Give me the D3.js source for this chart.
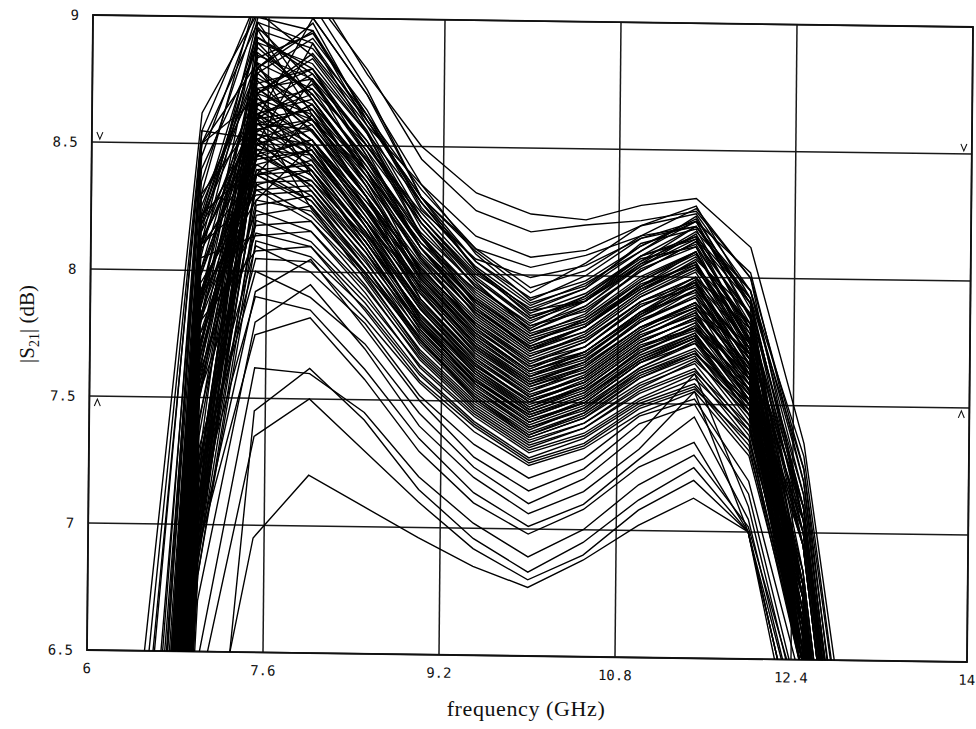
<!DOCTYPE html>
<html>
<head>
<meta charset="utf-8">
<script src="https://cdn.jsdelivr.net/npm/d3@7/dist/d3.min.js"></script>
<style>
  body { margin: 0; background: #fff; }
  text { fill: #111; }
</style>
</head>
<body>
<div id="chart"></div>
<script>
// ---------------------------
// DATA
// ---------------------------
const freqs = [6.5, 7.0, 7.5, 8.0, 8.5, 9.0, 9.5, 10.0, 10.5, 11.0, 11.5, 12.0, 12.5, 13.0];
const xTicks = [6, 7.6, 9.2, 10.8, 12.4, 14];
const xTickLabels = ["6", "7.6", "9.2", "10.8", "12.4", "14"];
const yTicks = [6.5, 7, 7.5, 8, 8.5, 9];
const yTickLabels = ["6.5", "7", "7.5", "8", "8.5", "9"];

// highest few traces (clipped at the top of the frame)
const topCurves = [
  [5.9, 8.55, 9.08, 9.12, 8.78, 8.5, 8.32, 8.24, 8.22, 8.28, 8.31, 8.12, 7.35, 5.9],
  [4.8, 8.45, 9.05, 9.08, 8.8, 8.45, 8.25, 8.17, 8.2, 8.22, 8.26, 8.0, 7.25, 5.6],
  [3.2, 8.3, 9.1, 9.0, 8.7, 8.35, 8.15, 8.07, 8.1, 8.2, 8.25, 7.95, 7.3, 5.8],
  [6.4, 8.62, 9.02, 9.05, 8.72, 8.3, 8.1, 8.03, 8.08, 8.16, 8.2, 7.9, 7.1, 5.4],
  [2.5, 8.1, 9.0, 8.95, 8.62, 8.25, 8.06, 7.99, 8.04, 8.15, 8.22, 8.02, 7.2, 5.5]
];

// main bundle
const coreCurves = [
  [3.1, 8.05, 8.95, 8.88, 8.62, 8.33, 8.1, 7.95, 8.02, 8.16, 8.27, 8.0, 7.05, 5.4],
  [4.4, 8.25, 8.8, 8.98, 8.6, 8.3, 8.09, 7.93, 8.05, 8.2, 8.28, 7.92, 6.6, 4.8],
  [2.2, 7.1, 8.9, 8.82, 8.55, 8.28, 8.05, 7.91, 7.98, 8.12, 8.22, 7.85, 6.8, 4.8],
  [5.2, 8.35, 9.02, 8.85, 8.58, 8.35, 8.08, 7.9, 8.0, 8.15, 8.2, 7.95, 7.15, 5.6],
  [3.6, 8.0, 8.78, 8.92, 8.64, 8.26, 8.03, 7.88, 7.97, 8.1, 8.24, 7.88, 6.5, 4.4],
  [1.9, 7.0, 8.85, 8.76, 8.52, 8.22, 8.0, 7.87, 7.95, 8.13, 8.19, 7.8, 6.75, 5.1],
  [4.0, 8.15, 8.92, 8.8, 8.5, 8.24, 8.01, 7.85, 7.93, 8.08, 8.2, 7.9, 7.0, 5.4],
  [2.8, 7.9, 8.7, 8.86, 8.6, 8.28, 8.02, 7.84, 7.9, 8.06, 8.16, 7.76, 6.65, 4.9],
  [3.5, 7.25, 8.96, 8.75, 8.48, 8.2, 7.98, 7.82, 7.9, 8.05, 8.18, 7.95, 7.2, 5.7],
  [2.4, 7.7, 8.74, 8.8, 8.55, 8.18, 7.95, 7.81, 7.92, 8.07, 8.12, 7.7, 6.55, 4.5],
  [5.5, 8.4, 8.88, 8.7, 8.45, 8.16, 7.96, 7.8, 7.86, 8.02, 8.14, 7.85, 6.85, 5.2],
  [3.0, 7.15, 8.82, 8.72, 8.5, 8.2, 7.97, 7.78, 7.88, 8.04, 8.15, 7.9, 7.1, 5.5],
  [2.0, 7.5, 8.65, 8.78, 8.52, 8.15, 7.92, 7.77, 7.84, 8.0, 8.1, 7.72, 6.65, 4.8],
  [4.6, 8.2, 8.9, 8.68, 8.4, 8.12, 7.9, 7.76, 7.85, 8.03, 8.12, 7.8, 6.75, 5.0],
  [3.3, 7.2, 8.7, 8.8, 8.46, 8.1, 7.9, 7.75, 7.82, 7.96, 8.08, 7.82, 7.05, 5.4],
  [2.6, 7.78, 8.76, 8.66, 8.42, 8.14, 7.88, 7.73, 7.83, 7.98, 8.1, 7.75, 6.5, 4.3],
  [3.8, 8.1, 8.6, 8.74, 8.48, 8.1, 7.86, 7.72, 7.8, 7.95, 8.06, 7.7, 6.7, 4.9],
  [1.7, 6.9, 8.7, 8.62, 8.38, 8.08, 7.87, 7.71, 7.78, 7.94, 8.07, 7.86, 7.15, 5.6],
  [4.2, 8.18, 8.8, 8.6, 8.36, 8.06, 7.85, 7.7, 7.8, 7.97, 8.05, 7.68, 6.55, 4.6],
  [2.9, 7.85, 8.62, 8.7, 8.44, 8.1, 7.84, 7.69, 7.76, 7.92, 8.03, 7.78, 6.95, 5.3],
  [3.4, 7.1, 8.72, 8.58, 8.32, 8.04, 7.82, 7.68, 7.77, 7.93, 8.04, 7.72, 6.65, 4.9],
  [2.3, 7.65, 8.55, 8.66, 8.4, 8.06, 7.8, 7.66, 7.72, 7.88, 8.0, 7.65, 6.45, 4.4],
  [5.0, 8.28, 8.75, 8.55, 8.3, 8.02, 7.8, 7.65, 7.74, 7.9, 7.98, 7.74, 7.0, 5.4],
  [3.1, 7.05, 8.6, 8.64, 8.36, 8.0, 7.78, 7.64, 7.7, 7.86, 7.99, 7.62, 6.5, 4.5],
  [2.1, 7.55, 8.68, 8.52, 8.28, 8.03, 7.79, 7.63, 7.72, 7.89, 7.96, 7.7, 6.75, 5.0],
  [4.3, 8.12, 8.52, 8.6, 8.34, 7.98, 7.76, 7.62, 7.69, 7.84, 7.97, 7.66, 6.65, 4.8],
  [2.7, 6.95, 8.64, 8.5, 8.26, 7.99, 7.76, 7.61, 7.68, 7.85, 7.95, 7.72, 7.1, 5.5],
  [3.6, 7.98, 8.58, 8.56, 8.3, 7.97, 7.74, 7.6, 7.7, 7.86, 7.94, 7.6, 6.55, 4.5],
  [1.8, 7.35, 8.62, 8.48, 8.22, 7.95, 7.73, 7.59, 7.66, 7.82, 7.93, 7.68, 6.8, 5.1],
  [4.7, 7.2, 8.66, 8.52, 8.25, 7.96, 7.72, 7.58, 7.65, 7.8, 7.9, 7.64, 6.65, 4.9],
  [3.0, 7.82, 8.5, 8.58, 8.3, 7.94, 7.71, 7.57, 7.66, 7.83, 7.92, 7.58, 6.45, 4.3],
  [2.5, 7.68, 8.6, 8.46, 8.2, 7.92, 7.7, 7.56, 7.63, 7.79, 7.9, 7.7, 6.85, 5.2],
  [3.9, 7.0, 8.54, 8.5, 8.24, 7.93, 7.69, 7.55, 7.62, 7.78, 7.88, 7.62, 6.7, 4.8],
  [2.2, 7.5, 8.45, 8.52, 8.26, 7.9, 7.68, 7.54, 7.64, 7.8, 7.89, 7.55, 6.5, 4.4],
  [3.3, 7.88, 8.56, 8.44, 8.18, 7.89, 7.67, 7.53, 7.6, 7.76, 7.86, 7.66, 7.05, 5.5],
  [4.5, 7.1, 8.48, 8.46, 8.2, 7.88, 7.66, 7.52, 7.61, 7.77, 7.85, 7.58, 6.6, 4.6],
  [2.6, 7.62, 8.52, 8.4, 8.16, 7.86, 7.64, 7.51, 7.58, 7.74, 7.84, 7.62, 6.75, 5.0],
  [3.5, 7.92, 8.44, 8.48, 8.2, 7.87, 7.65, 7.5, 7.59, 7.75, 7.83, 7.54, 6.45, 4.4],
  [1.9, 6.85, 8.5, 8.38, 8.12, 7.84, 7.63, 7.49, 7.56, 7.72, 7.82, 7.6, 6.8, 5.2],
  [4.1, 8.08, 8.46, 8.36, 8.14, 7.83, 7.62, 7.48, 7.57, 7.73, 7.8, 7.52, 6.5, 4.5],
  [2.8, 7.75, 8.4, 8.42, 8.16, 7.82, 7.61, 7.47, 7.55, 7.7, 7.81, 7.56, 6.65, 4.9],
  [3.2, 7.0, 8.48, 8.34, 8.1, 7.8, 7.6, 7.46, 7.54, 7.71, 7.79, 7.58, 7.0, 5.4],
  [2.4, 7.58, 8.38, 8.4, 8.12, 7.81, 7.59, 7.45, 7.53, 7.69, 7.78, 7.5, 6.45, 4.3],
  [4.8, 8.22, 8.42, 8.3, 8.06, 7.79, 7.58, 7.44, 7.52, 7.68, 7.77, 7.54, 6.65, 4.8],
  [3.0, 6.95, 8.35, 8.36, 8.1, 7.78, 7.57, 7.43, 7.5, 7.66, 7.76, 7.48, 6.55, 4.5],
  [2.0, 7.42, 8.4, 8.28, 8.04, 7.77, 7.56, 7.42, 7.5, 7.66, 7.74, 7.56, 6.85, 5.2],
  [3.7, 7.95, 8.32, 8.34, 8.08, 7.76, 7.55, 7.41, 7.49, 7.64, 7.75, 7.46, 6.5, 4.4],
  [2.7, 6.9, 8.38, 8.26, 8.02, 7.75, 7.54, 7.4, 7.47, 7.63, 7.72, 7.5, 6.7, 5.0],
  [4.4, 8.1, 8.3, 8.32, 8.05, 7.74, 7.53, 7.39, 7.48, 7.62, 7.71, 7.44, 6.45, 4.3],
  [3.1, 7.72, 8.34, 8.22, 8.0, 7.73, 7.52, 7.38, 7.46, 7.61, 7.7, 7.52, 7.05, 5.5],
  [2.3, 6.85, 8.26, 8.3, 8.02, 7.72, 7.51, 7.37, 7.45, 7.6, 7.69, 7.42, 6.5, 4.4],
  [3.6, 7.88, 8.32, 8.2, 7.98, 7.7, 7.5, 7.36, 7.44, 7.58, 7.68, 7.46, 6.65, 4.9],
  [1.8, 7.25, 8.28, 8.24, 7.99, 7.69, 7.49, 7.35, 7.42, 7.57, 7.66, 7.4, 6.55, 4.5],
  [4.0, 6.95, 8.22, 8.26, 7.97, 7.68, 7.48, 7.34, 7.42, 7.56, 7.67, 7.48, 6.8, 5.1],
  [2.9, 7.6, 8.24, 8.16, 7.94, 7.67, 7.47, 7.33, 7.4, 7.55, 7.64, 7.38, 6.45, 4.3],
  [3.4, 7.75, 8.18, 8.2, 7.95, 7.66, 7.46, 7.32, 7.4, 7.54, 7.63, 7.42, 6.65, 4.8],
  [2.5, 6.8, 8.2, 8.12, 7.9, 7.64, 7.45, 7.31, 7.38, 7.52, 7.62, 7.36, 6.5, 4.4],
  [4.6, 8.05, 8.14, 8.16, 7.92, 7.63, 7.44, 7.3, 7.37, 7.51, 7.6, 7.4, 6.75, 5.0],
  [3.0, 7.52, 8.15, 8.1, 7.88, 7.61, 7.42, 7.28, 7.36, 7.5, 7.58, 7.34, 6.45, 4.3],
  [2.2, 6.8, 8.12, 8.06, 7.86, 7.6, 7.41, 7.27, 7.34, 7.49, 7.57, 7.32, 6.55, 4.5],
  [3.8, 7.8, 8.08, 8.1, 7.85, 7.58, 7.4, 7.26, 7.33, 7.48, 7.56, 7.36, 6.65, 4.9],
  [2.6, 7.2, 8.05, 8.04, 7.82, 7.57, 7.38, 7.25, 7.32, 7.46, 7.55, 7.3, 6.5, 4.4]
];

// second run of the main bundle
const coreCurves2 = [
  [3.0, 7.85, 8.98, 8.9, 8.6, 8.3, 8.05, 7.89, 7.96, 8.12, 8.23, 7.9, 6.75, 4.9],
  [4.3, 8.2, 8.84, 8.94, 8.62, 8.28, 8.02, 7.86, 7.95, 8.1, 8.22, 7.84, 6.65, 4.8],
  [2.3, 7.05, 8.92, 8.78, 8.5, 8.22, 7.98, 7.83, 7.91, 8.06, 8.2, 7.92, 7.05, 5.5],
  [3.7, 8.1, 8.7, 8.84, 8.56, 8.2, 7.95, 7.8, 7.88, 8.05, 8.13, 7.78, 6.55, 4.5],
  [2.9, 7.8, 8.86, 8.7, 8.44, 8.15, 7.93, 7.78, 7.87, 8.02, 8.14, 7.86, 6.95, 5.3],
  [4.9, 7.2, 8.72, 8.76, 8.46, 8.14, 7.91, 7.76, 7.83, 7.99, 8.1, 7.74, 6.65, 4.8],
  [2.2, 7.6, 8.8, 8.64, 8.4, 8.1, 7.89, 7.74, 7.82, 7.98, 8.09, 7.8, 6.8, 5.0],
  [3.4, 7.98, 8.66, 8.72, 8.42, 8.1, 7.87, 7.72, 7.8, 7.96, 8.06, 7.72, 6.65, 4.8],
  [2.7, 7.0, 8.78, 8.6, 8.36, 8.07, 7.85, 7.7, 7.78, 7.94, 8.05, 7.76, 7.0, 5.4],
  [4.1, 8.15, 8.62, 8.68, 8.38, 8.05, 7.83, 7.68, 7.76, 7.92, 8.02, 7.68, 6.5, 4.4],
  [2.4, 7.6, 8.72, 8.56, 8.3, 8.02, 7.81, 7.66, 7.74, 7.9, 8.0, 7.74, 6.75, 5.0],
  [3.6, 7.1, 8.58, 8.64, 8.34, 8.01, 7.79, 7.64, 7.72, 7.88, 7.98, 7.66, 6.65, 4.8],
  [1.9, 7.4, 8.66, 8.52, 8.28, 8.0, 7.77, 7.62, 7.7, 7.86, 7.97, 7.7, 6.95, 5.3],
  [4.4, 8.18, 8.56, 8.6, 8.3, 7.98, 7.75, 7.6, 7.68, 7.84, 7.95, 7.62, 6.55, 4.5],
  [2.6, 6.95, 8.62, 8.5, 8.24, 7.96, 7.73, 7.58, 7.66, 7.82, 7.92, 7.68, 6.8, 5.1],
  [3.3, 7.9, 8.5, 8.56, 8.26, 7.94, 7.71, 7.56, 7.64, 7.8, 7.9, 7.6, 6.5, 4.4],
  [2.1, 7.52, 8.58, 8.46, 8.2, 7.92, 7.69, 7.54, 7.62, 7.78, 7.88, 7.64, 6.75, 5.0],
  [3.9, 7.05, 8.46, 8.52, 8.22, 7.9, 7.67, 7.52, 7.6, 7.76, 7.86, 7.56, 6.6, 4.6],
  [2.8, 7.7, 8.54, 8.42, 8.16, 7.88, 7.65, 7.5, 7.58, 7.74, 7.84, 7.6, 6.95, 5.3],
  [3.2, 7.82, 8.42, 8.48, 8.18, 7.86, 7.63, 7.48, 7.56, 7.72, 7.82, 7.52, 6.5, 4.4],
  [2.3, 6.9, 8.5, 8.38, 8.12, 7.84, 7.61, 7.46, 7.54, 7.7, 7.8, 7.56, 6.7, 4.9],
  [4.2, 8.1, 8.38, 8.44, 8.14, 7.82, 7.59, 7.44, 7.52, 7.68, 7.78, 7.5, 6.65, 4.8],
  [2.9, 7.66, 8.46, 8.34, 8.08, 7.8, 7.57, 7.42, 7.5, 7.66, 7.76, 7.54, 6.8, 5.1],
  [3.5, 7.0, 8.34, 8.4, 8.1, 7.78, 7.55, 7.4, 7.48, 7.64, 7.74, 7.46, 6.5, 4.4],
  [2.5, 7.55, 8.38, 8.28, 8.02, 7.74, 7.51, 7.36, 7.44, 7.6, 7.7, 7.48, 6.65, 4.8]
];

// extra traces with the peak shifted between 7.5 and 8 GHz
const shiftedCurves = [
  [3.3, 8.0, 8.6, 9.0, 8.7, 8.3, 8.02, 7.86, 7.9, 8.04, 8.17, 7.82, 6.65, 4.8],
  [4.9, 8.5, 8.98, 8.68, 8.4, 8.12, 7.94, 7.79, 7.9, 8.08, 8.16, 7.92, 7.25, 5.8],
  [2.1, 7.65, 8.5, 8.9, 8.55, 8.15, 7.89, 7.74, 7.81, 7.96, 8.1, 7.74, 6.6, 4.7],
  [3.7, 8.22, 8.95, 8.62, 8.3, 8.02, 7.81, 7.67, 7.75, 7.9, 8.0, 7.8, 7.05, 5.5],
  [2.8, 7.9, 8.45, 8.76, 8.4, 8.0, 7.77, 7.62, 7.7, 7.85, 7.98, 7.6, 6.5, 4.4],
  [5.3, 8.5, 8.82, 8.45, 8.2, 7.95, 7.72, 7.57, 7.64, 7.8, 7.88, 7.7, 7.1, 5.6],
  [2.4, 7.8, 8.38, 8.62, 8.3, 7.9, 7.67, 7.52, 7.6, 7.76, 7.87, 7.5, 6.45, 4.3],
  [3.9, 8.2, 8.7, 8.38, 8.12, 7.84, 7.62, 7.47, 7.56, 7.72, 7.8, 7.62, 6.95, 5.4],
  [2.9, 7.9, 8.28, 8.5, 8.18, 7.8, 7.57, 7.42, 7.51, 7.67, 7.76, 7.46, 6.5, 4.4],
  [4.5, 8.3, 8.6, 8.25, 8.0, 7.74, 7.52, 7.37, 7.46, 7.62, 7.7, 7.5, 6.75, 5.0],
  [2.6, 7.9, 8.8, 8.95, 8.58, 8.22, 7.99, 7.83, 7.92, 8.08, 8.15, 7.75, 6.65, 4.8],
  [6.0, 8.5, 8.68, 8.6, 8.4, 8.1, 7.86, 7.71, 7.8, 7.95, 8.04, 7.82, 7.1, 5.5],
  [2.0, 7.7, 8.55, 8.66, 8.34, 7.98, 7.75, 7.6, 7.67, 7.82, 7.95, 7.64, 6.65, 4.8],
  [3.5, 8.1, 8.62, 8.4, 8.15, 7.86, 7.64, 7.5, 7.58, 7.74, 7.84, 7.58, 6.75, 5.0],
  [6.2, 8.55, 8.52, 8.32, 8.08, 7.8, 7.58, 7.45, 7.52, 7.67, 7.77, 7.52, 6.65, 4.8]
];

// low outliers under the main bundle
const lowCurves = [
  [3.8, 5.83, 6.95, 7.2, 7.08, 6.96, 6.85, 6.77, 6.88, 7.02, 7.13, 7.0, 6.1, 3.9],
  [2.5, 6.3, 7.35, 7.5, 7.3, 7.1, 6.92, 6.8, 6.9, 7.08, 7.2, 7.0, 6.0, 3.8],
  [3.0, 5.1, 7.45, 7.62, 7.42, 7.15, 6.96, 6.83, 6.95, 7.12, 7.25, 7.0, 6.2, 4.0],
  [1.5, 6.45, 7.62, 7.6, 7.45, 7.2, 7.02, 6.89, 7.0, 7.18, 7.3, 7.02, 6.3, 4.2],
  [2.2, 6.9, 7.75, 7.82, 7.58, 7.3, 7.1, 6.98, 7.08, 7.25, 7.35, 7.0, 6.1, 3.9],
  [3.0, 7.1, 7.9, 7.85, 7.62, 7.35, 7.14, 7.01, 7.1, 7.28, 7.45, 7.05, 6.2, 4.1],
  [2.0, 6.7, 7.8, 7.95, 7.7, 7.4, 7.2, 7.06, 7.15, 7.32, 7.55, 7.0, 6.1, 4.0],
  [2.7, 7.2, 8.0, 7.9, 7.72, 7.45, 7.24, 7.1, 7.2, 7.38, 7.62, 7.1, 6.25, 4.2],
  [1.6, 6.9, 7.92, 8.05, 7.78, 7.5, 7.28, 7.15, 7.24, 7.42, 7.5, 7.15, 6.3, 4.3],
  [3.3, 7.3, 8.1, 8.0, 7.8, 7.52, 7.33, 7.2, 7.28, 7.45, 7.52, 7.2, 6.4, 4.4]
];

const allCurves = [...topCurves, ...coreCurves, ...coreCurves2, ...shiftedCurves, ...lowCurves];

// ---------------------------
// LAYOUT
// ---------------------------
const width = 976;
const height = 729;
const frame = { left: 93, top: 15, w: 880, h: 635 };

const svg = d3.select("#chart")
  .append("svg")
  .attr("width", width)
  .attr("height", height);

const x = d3.scaleLinear().domain([6, 14]).range([0, frame.w]);
const y = d3.scaleLinear().domain([6.5, 9]).range([frame.h, 0]);

// the scan is slightly skewed, so the whole plot frame is tilted a bit
const g = svg.append("g")
  .attr("transform", `translate(${frame.left},${frame.top}) matrix(1,0.01364,-0.00945,1,0,0)`);

svg.append("defs").append("clipPath")
  .attr("id", "plot-clip")
  .append("rect")
  .attr("width", frame.w)
  .attr("height", frame.h);

// grid
g.selectAll(".vgrid")
  .data(xTicks)
  .join("line")
  .attr("x1", d => x(d)).attr("x2", d => x(d))
  .attr("y1", 0).attr("y2", frame.h)
  .attr("stroke", "#1a1a1a")
  .attr("stroke-width", 1.5);

g.selectAll(".hgrid")
  .data(yTicks)
  .join("line")
  .attr("x1", 0).attr("x2", frame.w)
  .attr("y1", d => y(d)).attr("y2", d => y(d))
  .attr("stroke", "#1a1a1a")
  .attr("stroke-width", 1.5);

g.append("rect")
  .attr("width", frame.w)
  .attr("height", frame.h)
  .attr("fill", "none")
  .attr("stroke", "#111")
  .attr("stroke-width", 1.8);

// curves
const line = d3.line()
  .x((d, i) => x(freqs[i]))
  .y(d => y(d));

g.append("g")
  .attr("clip-path", "url(#plot-clip)")
  .selectAll("path")
  .data(allCurves)
  .join("path")
  .attr("d", line)
  .attr("fill", "none")
  .attr("stroke", "#000")
  .attr("stroke-width", 1.4)
  .attr("stroke-linejoin", "miter");

// limit markers (v above 8.5, ^ below 7.5) at both ends
const markers = [
  { fx: 6, v: 8.5, side: 1, up: false },
  { fx: 14, v: 8.5, side: -1, up: false },
  { fx: 6, v: 7.5, side: 1, up: true },
  { fx: 14, v: 7.5, side: -1, up: true }
];
g.selectAll(".marker")
  .data(markers)
  .join("path")
  .attr("d", d => {
    const cx = x(d.fx) + d.side * 8;
    const cy = y(d.v);
    return d.up
      ? `M${cx - 3},${cy + 10} L${cx},${cy + 3} L${cx + 3},${cy + 10}`
      : `M${cx - 3},${cy - 10} L${cx},${cy - 3} L${cx + 3},${cy - 10}`;
  })
  .attr("fill", "none")
  .attr("stroke", "#111")
  .attr("stroke-width", 1.1);

// tick labels
g.selectAll(".xlab")
  .data(xTicks)
  .join("text")
  .attr("x", d => x(d))
  .attr("y", frame.h + 23)
  .attr("text-anchor", "middle")
  .style("font-family", "'DejaVu Sans Mono', monospace")
  .style("font-size", "14px")
  .text((d, i) => xTickLabels[i]);

g.selectAll(".ylab")
  .data(yTicks)
  .join("text")
  .attr("x", -14)
  .attr("y", d => y(d) + 5)
  .attr("text-anchor", "end")
  .style("font-family", "'DejaVu Sans Mono', monospace")
  .style("font-size", "14px")
  .text((d, i) => yTickLabels[i]);

// axis titles
svg.append("text")
  .attr("x", 526)
  .attr("y", 716)
  .attr("text-anchor", "middle")
  .style("font-family", "'Liberation Serif', 'Times New Roman', serif")
  .style("font-size", "22px")
  .style("letter-spacing", "0.6px")
  .text("frequency (GHz)");

const yTitle = svg.append("text")
  .attr("transform", "translate(34,324) rotate(-90)")
  .attr("text-anchor", "middle")
  .style("font-family", "'Liberation Serif', 'Times New Roman', serif")
  .style("font-size", "21px");
yTitle.append("tspan").text("|S");
yTitle.append("tspan").attr("dy", 5).style("font-size", "14px").text("21");
yTitle.append("tspan").attr("dy", -5).text("| (dB)");
</script>
</body>
</html>
